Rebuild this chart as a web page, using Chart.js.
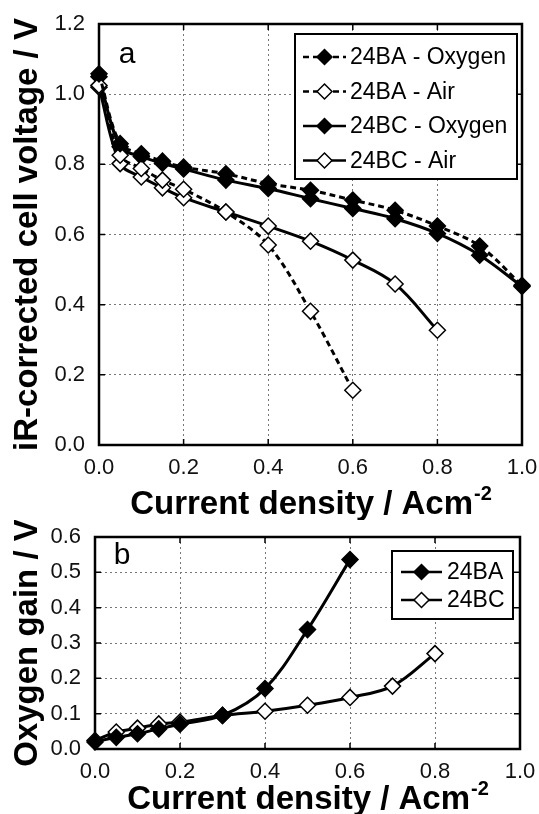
<!DOCTYPE html>
<html>
<head>
<meta charset="utf-8">
<script src="https://cdn.jsdelivr.net/npm/chart.js@4/dist/chart.umd.min.js"></script>
<style>
    html, body { margin: 0; padding: 0; background: #fff; }
    #wrapA { position: absolute; left: 0; top: 0; width: 539px; height: 520px; }
    #wrapB { position: absolute; left: 0; top: 520px; width: 539px; height: 294px; }
</style>
</head>
<body>
<div id="wrapA"><canvas id="chartA"></canvas></div>
<div id="wrapB"><canvas id="chartB"></canvas></div>
<script>
// Current density values (A cm-2)
const currentAll = [0, 0.05, 0.1, 0.15, 0.2, 0.3, 0.4, 0.5, 0.6, 0.7, 0.8, 0.9, 1.0];

// Panel a: iR-corrected cell voltage (V)
const baOxygen = [1.058, 0.859, 0.83, 0.809, 0.792, 0.773, 0.745, 0.726, 0.698, 0.669, 0.624, 0.567, 0.455];
const baAir = [1.025, 0.826, 0.788, 0.755, 0.729, 0.664, 0.570, 0.381, 0.156];
const bcOxygen = [1.05, 0.85, 0.822, 0.803, 0.787, 0.755, 0.731, 0.702, 0.674, 0.645, 0.603, 0.541, 0.452];
const bcAir = [1.02, 0.802, 0.764, 0.733, 0.705, 0.664, 0.624, 0.581, 0.527, 0.459, 0.327];

// Panel b: oxygen gain (V)
const gainBA = [0.02, 0.033, 0.043, 0.057, 0.07, 0.095, 0.171, 0.338, 0.536];
const gainBC = [0.024, 0.048, 0.059, 0.071, 0.076, 0.095, 0.107, 0.124, 0.146, 0.178, 0.27];

const FONT = '"Liberation Sans", Arial, sans-serif';

// pairs x values with y values
function toPoints(ys) {
    return ys.map((y, i) => ({ x: currentAll[i], y: y }));
}

function makeDataset(label, ys, filled, dashed) {
    return {
        label: label,
        data: toPoints(ys),
        borderColor: '#000',
        borderWidth: 3,
        borderDash: dashed ? [6, 4] : [],
        pointStyle: 'rectRot',
        pointRadius: 8,
        pointBorderWidth: 1.5,
        pointBorderColor: '#000',
        pointBackgroundColor: filled ? '#000' : '#fff',
        tension: 0.35,
        clip: false,
        fill: false
    };
}

// Draws frame, inner ticks, axis titles, panel letter and legend
function decorations(cfg) {
    return {
        id: 'decor',
        beforeDatasetsDraw(chart) {
            const ctx = chart.ctx, a = chart.chartArea;
            const xs = chart.scales.x, ys = chart.scales.y;
            ctx.save();
            ctx.strokeStyle = '#000';
            ctx.lineWidth = 1.5;
            ctx.beginPath();
            xs.ticks.forEach(t => {
                const px = xs.getPixelForValue(t.value);
                ctx.moveTo(px, a.top); ctx.lineTo(px, a.top + 6);
                ctx.moveTo(px, a.bottom); ctx.lineTo(px, a.bottom - 6);
            });
            ys.ticks.forEach(t => {
                const py = ys.getPixelForValue(t.value);
                ctx.moveTo(a.left, py); ctx.lineTo(a.left + 6, py);
                ctx.moveTo(a.right, py); ctx.lineTo(a.right - 6, py);
            });
            ctx.stroke();
            ctx.lineWidth = 2.5;
            ctx.strokeRect(a.left, a.top, a.right - a.left, a.bottom - a.top);
            ctx.restore();
        },
        afterDraw(chart) {
            const ctx = chart.ctx, a = chart.chartArea;
            ctx.save();
            ctx.fillStyle = '#000';

            // y title (rotated)
            ctx.save();
            ctx.translate(cfg.yTitleX, (a.top + a.bottom) / 2);
            ctx.rotate(-Math.PI / 2);
            ctx.font = 'bold 33px ' + FONT;
            ctx.textAlign = 'center';
            ctx.textBaseline = 'alphabetic';
            ctx.fillText(cfg.yTitle, 0, 0);
            ctx.restore();

            // x title with superscript
            const main = 'Current density / Acm', sup = '-2';
            ctx.font = 'bold 33px ' + FONT;
            const w1 = ctx.measureText(main).width;
            ctx.font = 'bold 20px ' + FONT;
            const w2 = ctx.measureText(sup).width;
            const startX = (a.left + a.right) / 2 - (w1 + w2) / 2;
            ctx.textAlign = 'left';
            ctx.textBaseline = 'alphabetic';
            ctx.font = 'bold 33px ' + FONT;
            ctx.fillText(main, startX, cfg.xTitleY);
            ctx.font = 'bold 20px ' + FONT;
            ctx.fillText(sup, startX + w1 + 1, cfg.xTitleY - 14);

            // panel letter
            ctx.font = '30px ' + FONT;
            ctx.textAlign = 'center';
            ctx.textBaseline = 'middle';
            ctx.fillText(cfg.letter, cfg.letterX, cfg.letterY);

            // legend
            const lg = cfg.legend;
            ctx.fillStyle = '#fff';
            ctx.fillRect(lg.left, lg.top, lg.right - lg.left, lg.bottom - lg.top);
            ctx.strokeStyle = '#000';
            ctx.lineWidth = 2;
            ctx.strokeRect(lg.left, lg.top, lg.right - lg.left, lg.bottom - lg.top);
            chart.data.datasets.forEach((ds, i) => {
                const y = lg.firstY + i * lg.step;
                ctx.save();
                ctx.strokeStyle = '#000';
                ctx.lineWidth = 2.5;
                ctx.setLineDash(ds.borderDash);
                ctx.beginPath();
                ctx.moveTo(lg.lineX0, y);
                ctx.lineTo(lg.lineX1, y);
                ctx.stroke();
                ctx.setLineDash([]);
                const cx = (lg.lineX0 + lg.lineX1) / 2, r = 7.5;
                ctx.beginPath();
                ctx.moveTo(cx - r, y); ctx.lineTo(cx, y - r);
                ctx.lineTo(cx + r, y); ctx.lineTo(cx, y + r);
                ctx.closePath();
                ctx.fillStyle = ds.pointBackgroundColor;
                ctx.fill();
                ctx.lineWidth = 1.5;
                ctx.stroke();
                ctx.fillStyle = '#000';
                ctx.font = '23px ' + FONT;
                ctx.textAlign = 'left';
                ctx.textBaseline = 'middle';
                ctx.fillText(ds.label, lg.textX, y + 1);
                ctx.restore();
            });
            ctx.restore();
        }
    };
}

function makeOptions(cfg) {
    return {
        responsive: true,
        maintainAspectRatio: false,
        animation: false,
        events: [],
        layout: { padding: { top: cfg.padTop, right: cfg.padRight, left: 0, bottom: 0 } },
        plugins: { legend: { display: false }, tooltip: { enabled: false } },
        scales: {
            x: {
                type: 'linear', min: 0, max: 1,
                ticks: { stepSize: 0.2, padding: 10, maxRotation: 0, color: '#111',
                         font: { family: FONT, size: 22 }, callback: v => v.toFixed(1) },
                grid: { drawTicks: false, color: '#777', lineWidth: 1 },
                border: { display: false, dash: [2, 3] },
                // fixed axis size, no extra edge padding so layout padding decides the plot box
                afterFit: s => { s.height = cfg.xHeight; s.paddingLeft = 0; s.paddingRight = 0; }
            },
            y: {
                min: 0, max: cfg.yMax,
                ticks: { stepSize: cfg.yStep, padding: 14, color: '#111',
                         font: { family: FONT, size: 22 }, callback: v => v.toFixed(1) },
                grid: { drawTicks: false, color: '#777', lineWidth: 1 },
                border: { display: false, dash: [2, 3] },
                afterFit: s => { s.width = cfg.yWidth; s.paddingTop = 0; s.paddingBottom = 0; }
            }
        }
    };
}

// Panel a
new Chart(document.getElementById('chartA'), {
    type: 'line',
    data: {
        datasets: [
            makeDataset('24BA - Oxygen', baOxygen, true, true),
            makeDataset('24BA - Air', baAir, false, true),
            makeDataset('24BC - Oxygen', bcOxygen, true, false),
            makeDataset('24BC - Air', bcAir, false, false)
        ]
    },
    options: makeOptions({ padTop: 24, padRight: 17, xHeight: 75, yWidth: 99, yMax: 1.2, yStep: 0.2 }),
    plugins: [decorations({
        yTitle: 'iR-corrected cell voltage / V', yTitleX: 37, xTitleY: 514,
        letter: 'a', letterX: 127, letterY: 55,
        legend: { left: 295, top: 34, right: 517, bottom: 179, firstY: 57, step: 34.5,
                  lineX0: 303, lineX1: 346, textX: 350 }
    })]
});

// Panel b
new Chart(document.getElementById('chartB'), {
    type: 'line',
    data: {
        datasets: [
            makeDataset('24BA', gainBA, true, false),
            makeDataset('24BC', gainBC, false, false)
        ]
    },
    options: makeOptions({ padTop: 17, padRight: 19, xHeight: 65, yWidth: 95, yMax: 0.6, yStep: 0.1 }),
    plugins: [decorations({
        yTitle: 'Oxygen gain / V', yTitleX: 37, xTitleY: 289,
        letter: 'b', letterX: 122, letterY: 36,
        legend: { left: 392, top: 31, right: 513, bottom: 99, firstY: 52, step: 28,
                  lineX0: 401, lineX1: 442, textX: 447 }
    })]
});
</script>
</body>
</html>
